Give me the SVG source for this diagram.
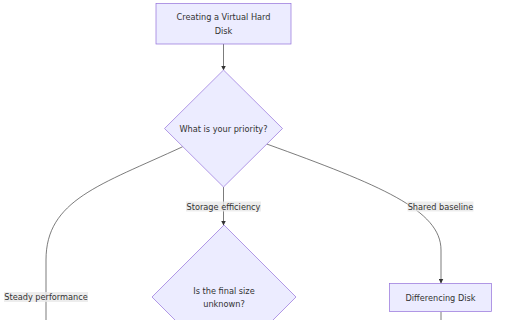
<svg xmlns="http://www.w3.org/2000/svg" width="512" height="320" viewBox="0 0 512 320">
<defs>
<style>
.node{fill:#ECECFF;stroke:#9370DB;stroke-width:0.7}
.t{font-family:"DejaVu Sans",Verdana,sans-serif;font-size:8.2px;fill:#333;text-anchor:middle;dominant-baseline:central}
.edge{fill:none;stroke:#444;stroke-width:0.7}
.lbg{fill:#e8e8e8;fill-opacity:0.8}
</style>
<marker id="arr" viewBox="0 0 10 10" refX="9" refY="5" markerWidth="5" markerHeight="5" orient="auto" markerUnits="userSpaceOnUse">
<path d="M0,0 L10,5 L0,10 z" fill="#333"/>
</marker>
</defs>
<rect width="512" height="320" fill="#fff"/>
<g id="connectors">
<path class="edge" d="M223.5,44 L223.5,70" marker-end="url(#arr)"/>
<path class="edge" d="M223.5,187 L223.5,225" marker-end="url(#arr)"/>
<path class="edge" d="M182.7,146.7 C100,185 46,200 46,260 L46,320"/>
<path class="edge" d="M266.7,144 C380,185 441,210 441,250 L441,283" marker-end="url(#arr)"/>
<path class="edge" d="M441,312 L441,320"/>
<g id="label-storage">
<rect class="lbg" x="186" y="201.5" width="75" height="10"/>
<text class="t" x="223.5" y="206.5">Storage efficiency</text>
</g>
<g id="label-steady">
<rect class="lbg" x="4" y="292" width="84" height="10"/>
<text class="t" x="46" y="297">Steady performance</text>
</g>
<g id="label-shared">
<rect class="lbg" x="407.5" y="201.5" width="66" height="10"/>
<text class="t" x="440.5" y="206.5">Shared baseline</text>
</g>
</g>
<g id="node-start">
<rect class="node" x="156" y="3.5" width="135" height="40.5"/>
<text class="t" x="223.5" y="17">Creating a Virtual Hard</text>
<text class="t" x="223.5" y="30.5">Disk</text>
</g>
<g id="node-priority">
<polygon class="node" points="223.5,70 282.5,128.5 223.5,187 164.5,128.5"/>
<text class="t" x="223.5" y="129">What is your priority?</text>
</g>
<g id="node-size">
<polygon class="node" points="224,225 296,297 224,369 152,297"/>
<text class="t" x="224" y="291">Is the final size</text>
<text class="t" x="224" y="303.5">unknown?</text>
</g>
<g id="node-diff">
<rect class="node" x="389.5" y="283.5" width="102" height="28"/>
<text class="t" x="440.5" y="297.5">Differencing Disk</text>
</g>
</svg>
